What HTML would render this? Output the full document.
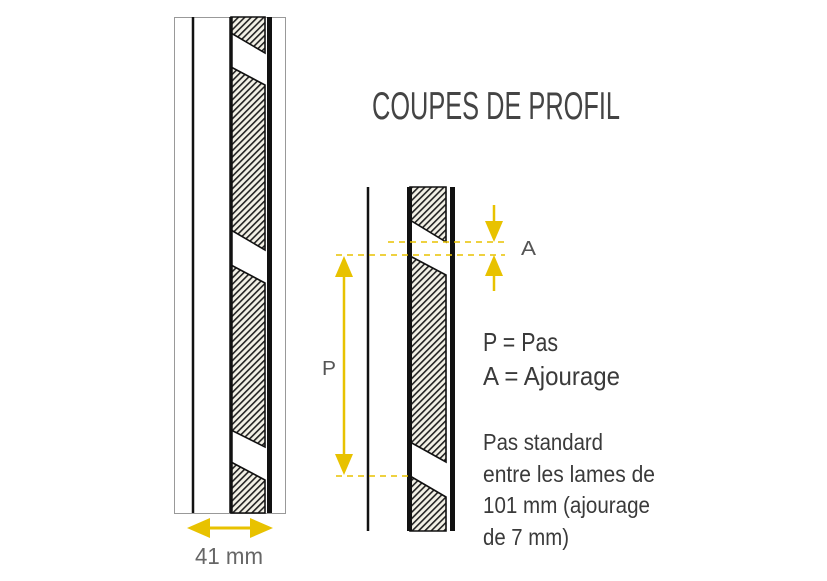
<!DOCTYPE html>
<html><head><meta charset="utf-8"><style>
html,body{margin:0;padding:0;background:#fff;}
svg{display:block}
text{font-family:"Liberation Sans Narrow","Liberation Sans",sans-serif;fill:#3a3a3a;}
</style></head><body>
<svg width="827" height="581" viewBox="0 0 827 581" xmlns="http://www.w3.org/2000/svg">
<defs>
<pattern id="h" patternUnits="userSpaceOnUse" width="4.5" height="4.5" patternTransform="rotate(-45)">
<rect width="4.5" height="4.5" fill="#f3f1e6"/>
<rect x="0" y="0" width="4.5" height="1.6" fill="#222"/>
</pattern>
</defs>

<!-- LEFT PROFILE -->
<rect x="174.5" y="17.5" width="111" height="496" fill="#fff" stroke="#999" stroke-width="1"/>
<line x1="193" y1="17" x2="193" y2="513" stroke="#111" stroke-width="2.5"/>
<polygon points="231,17 265,17 265,53 231,33" fill="url(#h)" stroke="#111" stroke-width="1.6"/>
<polygon points="231,67 265,85 265,250 231,230" fill="url(#h)" stroke="#111" stroke-width="1.6"/>
<polygon points="231,265 265,283 265,447 231,430" fill="url(#h)" stroke="#111" stroke-width="1.6"/>
<polygon points="231,462 265,480 265,513 231,513" fill="url(#h)" stroke="#111" stroke-width="1.6"/>
<line x1="231" y1="17" x2="231" y2="513" stroke="#111" stroke-width="3.5"/>
<rect x="267" y="17" width="5" height="496" fill="#111"/>
<line x1="200" y1="528" x2="260" y2="528" stroke="#e8c200" stroke-width="3"/>
<polygon points="187,528 210,518 210,538" fill="#e8c200"/>
<polygon points="273,528 250,518 250,538" fill="#e8c200"/>
<text x="195" y="564" font-size="23" style="fill:#666" textLength="68" lengthAdjust="spacingAndGlyphs">41 mm</text>

<!-- RIGHT PROFILE -->
<line x1="368" y1="187" x2="368" y2="531" stroke="#111" stroke-width="2.5"/>
<polygon points="410,187 446,187 446,242 410,220" fill="url(#h)" stroke="#111" stroke-width="1.6"/>
<polygon points="410,256 446,275 446,462 410,442" fill="url(#h)" stroke="#111" stroke-width="1.6"/>
<polygon points="410,476 446,497 446,531 410,531" fill="url(#h)" stroke="#111" stroke-width="1.6"/>
<rect x="407" y="187" width="5" height="344" fill="#111"/>
<rect x="450" y="187" width="5" height="344" fill="#111"/>

<g stroke="#e8c200" stroke-width="1.5" stroke-dasharray="6,5">
<line x1="388" y1="242" x2="505" y2="242"/>
<line x1="336" y1="255" x2="505" y2="255"/>
<line x1="336" y1="476" x2="412" y2="476"/>
</g>
<line x1="344" y1="270" x2="344" y2="462" stroke="#e8c200" stroke-width="2.5"/>
<polygon points="344,256 335,277 353,277" fill="#e8c200"/>
<polygon points="344,475 335,454 353,454" fill="#e8c200"/>
<text x="322" y="375" font-size="20" textLength="14" lengthAdjust="spacingAndGlyphs" style="fill:#555">P</text>
<line x1="494" y1="205" x2="494" y2="228" stroke="#e8c200" stroke-width="2.5"/>
<polygon points="494,242 485,221 503,221" fill="#e8c200"/>
<line x1="494" y1="268" x2="494" y2="291" stroke="#e8c200" stroke-width="2.5"/>
<polygon points="494,255 485,276 503,276" fill="#e8c200"/>
<text x="521" y="255" font-size="20" textLength="15" lengthAdjust="spacingAndGlyphs" style="fill:#555">A</text>

<text x="372" y="119" font-size="39" textLength="248" lengthAdjust="spacingAndGlyphs" style="fill:#444">COUPES DE PROFIL</text>
<text x="483" y="351" font-size="26" textLength="75" lengthAdjust="spacingAndGlyphs">P = Pas</text>
<text x="483" y="385" font-size="26" textLength="137" lengthAdjust="spacingAndGlyphs">A = Ajourage</text>
<text x="483" y="450" font-size="23" textLength="120" lengthAdjust="spacingAndGlyphs">Pas standard</text>
<text x="483" y="482" font-size="23" textLength="172" lengthAdjust="spacingAndGlyphs">entre les lames de</text>
<text x="483" y="513" font-size="23" textLength="167" lengthAdjust="spacingAndGlyphs">101 mm (ajourage</text>
<text x="483" y="545" font-size="23" textLength="86" lengthAdjust="spacingAndGlyphs">de 7 mm)</text>
</svg>
</body></html>
